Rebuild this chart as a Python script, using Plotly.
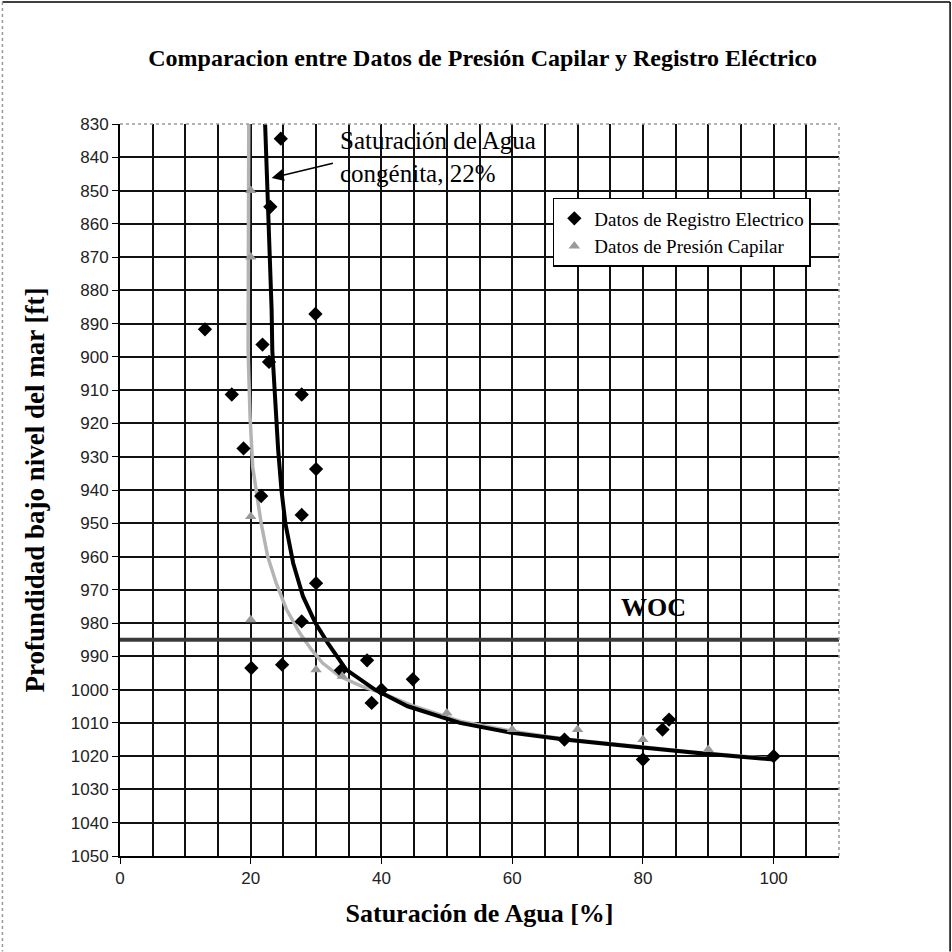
import plotly.graph_objects as go

# --- data ---
reg_sw = [24.6, 23.0, 29.9, 13.0, 21.8, 22.8, 17.1, 27.8, 18.9, 30.0, 21.6, 27.8, 30.0, 27.8,
          20.1, 24.8, 33.8, 37.8, 38.5, 40.0, 44.8, 68.0, 80.0, 83.0, 84.0, 100.0]
reg_depth = [834.4, 854.9, 887.1, 891.7, 896.3, 901.5, 911.3, 911.3, 927.5, 933.7, 941.8, 947.5, 968.0, 979.5,
             993.5, 992.5, 994.2, 991.2, 1004.0, 1000.0, 996.9, 1015.0, 1021.0, 1012.0, 1009.0, 1020.0]

cap_sw = [20.0, 20.0, 20.0, 20.0, 30.0, 34.0, 50.0, 60.0, 70.0, 80.0, 90.0]
cap_depth = [850.0, 870.0, 948.0, 979.0, 994.0, 996.0, 1007.0, 1012.0, 1012.0, 1015.0, 1018.0]

fit_reg_sw = [22.2, 22.7, 23.2, 23.3, 23.6, 24.2, 24.7, 25.3, 26.5, 28.0, 29.9, 31.8, 34.6, 36.7,
              39.0, 44.0, 52.0, 60.0, 68.0, 78.0, 88.0, 100.0]
fit_reg_depth = [830, 855, 886, 898, 910, 928, 940, 950, 962, 972, 980, 986, 994, 997,
                 1000, 1005, 1010, 1013, 1015, 1017, 1019, 1021]

fit_cap_sw = [19.7, 19.6, 19.9, 20.3, 20.9, 21.6, 22.6, 23.9, 25.5, 27.5, 29.3, 31.0, 33.6, 37.0,
              40.0, 45.0, 52.0, 60.0, 68.0, 78.0, 88.0, 100.0]
fit_cap_depth = [830, 898, 918, 933, 941, 950, 960, 968, 976, 983, 988, 992, 996, 999,
                 1001, 1005, 1009.5, 1012.5, 1014.8, 1016.8, 1018.8, 1020.8]

woc_depth = 985
swc_label_pt = (23.2, 846.2)
swc_label_tail = (32.8, 841.7)
x_ticks = [0, 20, 40, 60, 80, 100]
y_ticks = list(range(830, 1051, 10))

SERIF = "Liberation Serif, Times New Roman, serif"
TICKF = "Liberation Sans, Arial, sans-serif"

fig = go.Figure()
fig.add_trace(go.Scatter(x=fit_cap_sw, y=fit_cap_depth, mode="lines",
                         line=dict(color="#b4b4b4", width=3.5), showlegend=False, hoverinfo="skip"))
fig.add_trace(go.Scatter(x=fit_reg_sw, y=fit_reg_depth, mode="lines",
                         line=dict(color="black", width=4), showlegend=False, hoverinfo="skip"))
fig.add_trace(go.Scatter(x=reg_sw, y=reg_depth, mode="markers", name="Datos de Registro Electrico",
                         marker=dict(symbol="diamond", size=11, color="black")))
fig.add_trace(go.Scatter(x=cap_sw, y=cap_depth, mode="markers", name="Datos de Presión Capilar",
                         marker=dict(symbol="triangle-up", size=10, color="#9a9a9a")))

# WOC line
fig.add_shape(type="line", xref="paper", x0=0, x1=1, yref="y", y0=woc_depth, y1=woc_depth,
              line=dict(color="#3a3a3a", width=4))

# outer frame
for (x0, y0, x1, y1, col, dash) in [(-0.1635, 1.1668, 1.1545, 1.1668, "black", "solid"),
                                    (1.1545, 1.1668, 1.1545, -0.1306, "black", "solid"),
                                    (-0.1635, 1.1668, -0.1635, -0.1306, "#999999", "dot")]:
    fig.add_shape(type="line", xref="paper", yref="paper", x0=x0, y0=y0, x1=x1, y1=y1,
                  line=dict(color=col, width=1.5, dash=dash))
# dotted top / right borders of plot area
fig.add_shape(type="line", xref="paper", yref="paper", x0=0, y0=1, x1=1, y1=1,
              line=dict(color="#999999", width=1.5, dash="dot"))
fig.add_shape(type="line", xref="paper", yref="paper", x0=1, y0=0, x1=1, y1=1,
              line=dict(color="#999999", width=1.5, dash="dot"))

fig.add_annotation(x=swc_label_pt[0], y=swc_label_pt[1], ax=swc_label_tail[0], ay=swc_label_tail[1],
                   xref="x", yref="y", axref="x", ayref="y", text="", showarrow=True,
                   arrowhead=2, arrowsize=1.6, arrowwidth=1.5, arrowcolor="black")
fig.add_annotation(x=33.4, y=830.4, xref="x", yref="y", xanchor="left", yanchor="top",
                   text="Saturación de Agua<br>congénita, 22%", showarrow=False, align="left",
                   font=dict(family=SERIF, size=25, color="black"))
fig.add_annotation(x=81.6, y=980.3, xref="x", yref="y", xanchor="center", yanchor="bottom",
                   text="<b>WOC</b>", showarrow=False,
                   font=dict(family=SERIF, size=26, color="black"))

fig.update_layout(
    width=952, height=952,
    margin=dict(l=120, r=113, t=124, b=96),
    paper_bgcolor="white", plot_bgcolor="white",
    title=dict(text="<b>Comparacion entre Datos de Presión Capilar y Registro Eléctrico</b>",
               x=0.507, xanchor="center", y=0.94, yanchor="middle",
               font=dict(family=SERIF, size=24, color="black")),
    legend=dict(x=0.602, y=0.899, xanchor="left", yanchor="top", bgcolor="white",
                bordercolor="black", borderwidth=1.5, itemwidth=30,
                font=dict(family=SERIF, size=19, color="black"), tracegroupgap=0),
    showlegend=True,
)
fig.update_xaxes(range=[0, 110], tickvals=x_ticks, ticks="outside", ticklen=6, tickcolor="black",
                 showgrid=True, gridcolor="#111111", gridwidth=1.5,
                 minor=dict(dtick=5, showgrid=True, gridcolor="#111111", gridwidth=1.5, ticks=""),
                 showline=True, linecolor="black", linewidth=2, zeroline=False,
                 tickfont=dict(family=TICKF, size=17, color="#222222"),
                 title=dict(text="<b>Saturación de Agua [%]</b>", standoff=16,
                            font=dict(family=SERIF, size=26, color="black")))
fig.update_yaxes(range=[1050, 830], tickvals=y_ticks, ticks="outside", ticklen=6, tickcolor="black",
                 showgrid=True, gridcolor="#111111", gridwidth=1.5,
                 showline=True, linecolor="black", linewidth=2, zeroline=False,
                 tickfont=dict(family=TICKF, size=17, color="#222222"),
                 title=dict(text="<b>Profundidad bajo nivel del mar [ft]</b>", standoff=18,
                            font=dict(family=SERIF, size=27, color="black")))

fig.write_html("out.html")
